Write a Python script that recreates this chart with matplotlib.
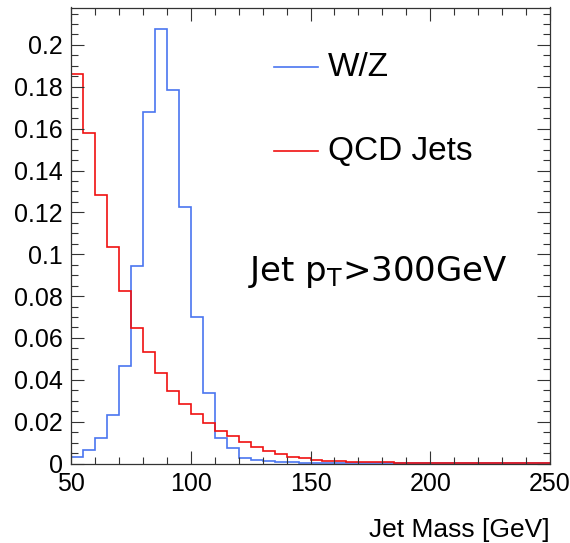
import matplotlib
matplotlib.use("Agg")
import matplotlib.pyplot as plt
from matplotlib.ticker import MultipleLocator, FuncFormatter
from matplotlib.lines import Line2D

bin_edges = list(range(50, 255, 5))
wz = [0.0033, 0.0065, 0.0120, 0.0233, 0.0465, 0.0943, 0.1681, 0.2075, 0.1784, 0.1224,
      0.0700, 0.0338, 0.0122, 0.0075, 0.0026, 0.0017, 0.0010, 0.0007, 0.0005, 0.0004,
      0.0003, 0.0002, 0.0002, 0.0001, 0.0001, 0.0001, 0.0001, 0.00005, 0.00005, 0.00005,
      0.00005, 0.00003, 0.00003, 0.00003, 0.00002, 0.00002, 0.00002, 0.00001, 0.00001, 0.00001]
qcd = [0.1861, 0.1580, 0.1285, 0.1035, 0.0823, 0.0647, 0.0533, 0.0432, 0.0346, 0.0285,
       0.0238, 0.0193, 0.0157, 0.0132, 0.0102, 0.0078, 0.0060, 0.0045, 0.0029, 0.0024,
       0.0018, 0.0014, 0.0011, 0.0009, 0.0007, 0.0006, 0.0005, 0.0004, 0.0003, 0.0003,
       0.0002, 0.0002, 0.0002, 0.00015, 0.00015, 0.00012, 0.0001, 0.0001, 0.0001, 0.0001]
labels = ["W/Z", "QCD Jets"]
annotation = r"Jet p$_{\mathregular{T}}$>300GeV"
xlabel = "Jet Mass [GeV]"

plt.rcParams['font.family'] = ['Liberation Sans', 'DejaVu Sans']

fig = plt.figure(figsize=(5.70, 5.43), dpi=100)
ax = fig.add_axes([71/570, 1 - 463.5/543, (550-71)/570, (463.5-7.5)/543])

blue = '#4a76f0'
red = '#f01010'
ax.stairs(wz, bin_edges, baseline=None, color=blue, lw=1.2)
ax.stairs(qcd, bin_edges, baseline=None, color=red, lw=1.2)

ax.set_xlim(50, 250)
ax.set_ylim(0, 0.2179)
ax.xaxis.set_major_locator(MultipleLocator(50))
ax.xaxis.set_minor_locator(MultipleLocator(10))
ax.yaxis.set_major_locator(MultipleLocator(0.02))
ax.yaxis.set_minor_locator(MultipleLocator(0.005))
ax.yaxis.set_major_formatter(FuncFormatter(lambda v, p: '%g' % round(v, 3)))
ax.tick_params(which='both', direction='in', top=True, right=True, color='#333333', width=0.8)
ax.tick_params(which='major', length=9.5, labelsize=18, pad=6)
ax.tick_params(which='minor', length=5)
for s in ax.spines.values():
    s.set_linewidth(0.9)
    s.set_color('#333333')

ax.set_xlabel(xlabel, fontsize=19, loc='right', labelpad=16)


def px(x, y):
    return (x / 570, 1 - y / 543)


for (lab, col, y) in [(labels[0], blue, 67), (labels[1], red, 151)]:
    x0, yy = px(274, y)
    x1, _ = px(318, y)
    fig.add_artist(Line2D([x0, x1], [yy, yy], color=col, lw=1.2, transform=fig.transFigure))
    tx, ty = px(328, y)
    fig.text(tx, ty, lab, fontsize=24, va='center', ha='left')

ax_x, ax_y = px(248, 272)
fig.text(ax_x, ax_y, annotation, fontsize=24.5, va='center', ha='left', family='DejaVu Sans')

fig.savefig('out.png', dpi=100)
